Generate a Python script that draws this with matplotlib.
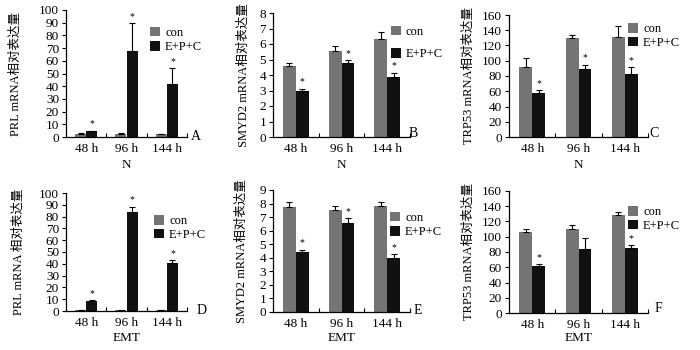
import numpy as np
import matplotlib
matplotlib.use("Agg")
import matplotlib.pyplot as plt

plt.rcParams['font.family'] = ['Liberation Serif', 'Noto Sans CJK SC', 'DejaVu Sans']
plt.rcParams['font.size'] = 9

# 数据
groups = ['48 h', '96 h', '144 h']
series = ['con', 'E+P+C']

prl_n_con = [2.5, 2.5, 2.0]
prl_n_con_err = [0.3, 0.3, 0.3]
prl_n_epc = [4.5, 68, 42]
prl_n_epc_err = [0.6, 22, 12]

smyd2_n_con = [4.55, 5.55, 6.3]
smyd2_n_con_err = [0.2, 0.3, 0.45]
smyd2_n_epc = [3.0, 4.75, 3.85]
smyd2_n_epc_err = [0.12, 0.22, 0.3]

trp53_n_con = [92, 130, 131]
trp53_n_con_err = [12, 4, 15]
trp53_n_epc = [58, 89, 82]
trp53_n_epc_err = [3, 6, 10]

prl_emt_con = [0.5, 0.5, 0.5]
prl_emt_con_err = [0, 0, 0]
prl_emt_epc = [8.5, 83.5, 41]
prl_emt_epc_err = [1, 5, 2]

smyd2_emt_con = [7.75, 7.55, 7.8]
smyd2_emt_con_err = [0.4, 0.25, 0.3]
smyd2_emt_epc = [4.4, 6.6, 4.0]
smyd2_emt_epc_err = [0.2, 0.35, 0.25]

trp53_emt_con = [106, 110, 129]
trp53_emt_con_err = [4, 6, 3]
trp53_emt_epc = [61, 84, 85]
trp53_emt_epc_err = [3, 14, 4]

n_star = [True, True, True]
f_star = [True, False, True]

panels = [
    # 数据, 误差, y轴, 标签, 位置(px)
    dict(con=prl_n_con, cerr=prl_n_con_err, epc=prl_n_epc, eerr=prl_n_epc_err,
         ymax=100, step=10, ylabel='PRL mRNA相对表达量', xlabel='N', letter='A',
         star=n_star, box=(66, 187, 10, 137), leg=(150, 40), ls=0.2, ylx=22, lt=(196, 136), xl=165),
    dict(con=smyd2_n_con, cerr=smyd2_n_con_err, epc=smyd2_n_epc, eerr=smyd2_n_epc_err,
         ymax=8, step=1, ylabel='SMYD2 mRNA相对表达量', xlabel='N', letter='B',
         star=n_star, box=(273, 410, 13, 137), leg=(391, 43), ls=0.85, ylx=250, lt=(413, 134), xl=165),
    dict(con=trp53_n_con, cerr=trp53_n_con_err, epc=trp53_n_epc, eerr=trp53_n_epc_err,
         ymax=160, step=20, ylabel='TRP53 mRNA相对表达量', xlabel='N', letter='C',
         star=n_star, box=(509, 648, 15, 137), leg=(628, 36), ls=0.1, ylx=475, lt=(654, 134), xl=165),
    dict(con=prl_emt_con, cerr=prl_emt_con_err, epc=prl_emt_epc, eerr=prl_emt_epc_err,
         ymax=100, step=10, ylabel='PRL mRNA 相对表达量', xlabel='EMT', letter='D',
         star=n_star, box=(66, 187, 193, 311), leg=(154, 228), ls=0.1, ylx=25, lt=(202, 310), xl=338),
    dict(con=smyd2_emt_con, cerr=smyd2_emt_con_err, epc=smyd2_emt_epc, eerr=smyd2_emt_epc_err,
         ymax=9, step=1, ylabel='SMYD2 mRNA相对表达量', xlabel='EMT', letter='E',
         star=n_star, box=(273, 410, 190, 312), leg=(390, 225), ls=0.2, ylx=248, lt=(418, 310), xl=338),
    dict(con=trp53_emt_con, cerr=trp53_emt_con_err, epc=trp53_emt_epc, eerr=trp53_emt_epc_err,
         ymax=160, step=20, ylabel='TRP53 mRNA相对表达量', xlabel='EMT', letter='F',
         star=f_star, box=(509, 648, 191, 313), leg=(628, 219), ls=0.1, ylx=475, lt=(658, 308), xl=338),
]

W, H = 700, 350
fig = plt.figure(figsize=(7, 3.5), dpi=100)

x = np.arange(len(groups)) + 0.5
w = 0.28
gray = '#747474'
black = '#111111'

for p in panels:
    x0, x1, y0, y1 = p['box']
    ax = fig.add_axes([x0 / W, 1 - y1 / H, (x1 - x0) / W, (y1 - y0) / H])

    b1 = ax.bar(x - w / 2, p['con'], w, color=gray, label='con')
    b2 = ax.bar(x + w / 2, p['epc'], w, color=black, label='E+P+C')
    ax.errorbar(x - w / 2, p['con'], yerr=[np.zeros(3), p['cerr']], fmt='none',
                ecolor='black', elinewidth=0.8, capsize=2, capthick=0.8)
    ax.errorbar(x + w / 2, p['epc'], yerr=[np.zeros(3), p['eerr']], fmt='none',
                ecolor='black', elinewidth=0.8, capsize=2, capthick=0.8)

    # 显著性标记
    for xi, v, e, s in zip(x, p['epc'], p['eerr'], p['star']):
        if s:
            ax.annotate('*', (xi + w / 2, v + e), xytext=(0, 1.5), textcoords='offset points',
                        ha='center', va='bottom', fontsize=7)

    ax.set_xlim(0, 3)
    ax.set_ylim(0, p['ymax'])
    ax.set_yticks(np.arange(0, p['ymax'] + p['step'] / 2, p['step']))
    ax.set_xticks(x)
    ax.set_xticklabels(groups, fontsize=9.5)
    ax.set_xticks([1, 2, 3], minor=True)
    ax.tick_params(axis='x', which='major', length=0, pad=4)
    ax.tick_params(axis='x', which='minor', direction='in', length=3, width=0.8)
    ax.tick_params(axis='y', direction='out', length=3, width=0.8, pad=2, labelsize=9.5)

    ax.spines['top'].set_visible(False)
    ax.spines['right'].set_visible(False)
    for sp in ['left', 'bottom']:
        ax.spines[sp].set_linewidth(0.9)

    ax.set_ylabel(p['ylabel'], fontsize=9)
    ax.yaxis.set_label_coords((p['ylx'] - x0) / (x1 - x0), 0.5)
    ax.set_xlabel(p['xlabel'], fontsize=9.5, va='center')
    ax.xaxis.set_label_coords(0.5, (y1 - p['xl']) / (y1 - y0))

    lx, ly = p['leg']
    ax.legend(handles=[b1, b2], loc='center left', bbox_to_anchor=(lx / W, 1 - ly / H),
              bbox_transform=fig.transFigure, frameon=False, fontsize=9,
              handlelength=0.8, handleheight=0.8, handletextpad=0.4,
              labelspacing=p['ls'], borderpad=0, borderaxespad=0)

    tx, ty = p['lt']
    fig.text(tx / W, 1 - ty / H, p['letter'], ha='center', va='center', fontsize=10)

fig.savefig('out.png', dpi=100)
